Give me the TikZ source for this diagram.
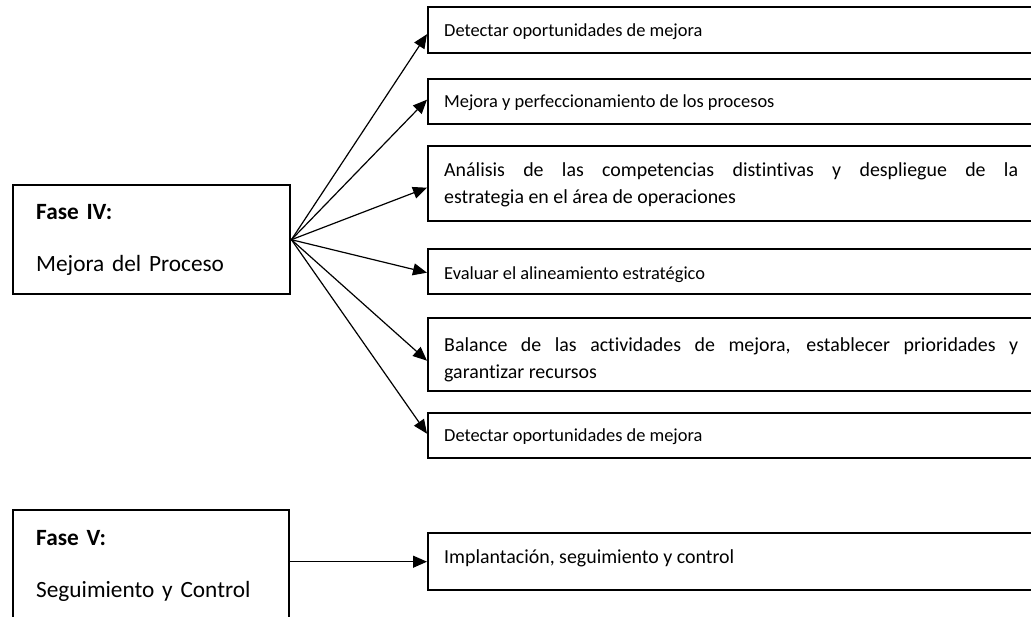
\documentclass[tikz,border=0pt]{standalone}
\usepackage{fontspec}
\setmainfont{Carlito}[Ligatures=NoCommon]
\usetikzlibrary{arrows.meta,calc}
\begin{document}
\begin{tikzpicture}[x=1pt,y=-1pt,
  rbox/.style={draw,line width=2.4pt,anchor=north west,inner sep=0pt,minimum width=610pt},
  tx/.style={anchor=base west,inner sep=0pt,font=\fontsize{18.4}{27}\selectfont},
  txb/.style={anchor=base west,inner sep=0pt,text width=574pt,align=justify,
    font=\fontsize{19.9}{27}\selectfont},
  lbox/.style={draw,line width=2.4pt,anchor=north west,text width=231pt,
    inner xsep=23pt,inner ysep=0pt,align=left,
    font=\fontsize{23.3}{26}\selectfont},
  arr/.style={-{Triangle[length=14pt,width=12pt]},line width=1.2pt}]
\useasboundingbox (0,0) rectangle (1031,617);
\clip (0,0) rectangle (1031,617);

\node[lbox,minimum height=109pt] (f4) at (12,184)
  {\textbf{Fase IV:}\\[26pt]Mejora del Proceso};
\node[lbox,minimum height=111pt,text width=230pt] (f5) at (12,509)
  {\textbf{Fase V:}\\[26pt]Seguimiento y Control};

\node[rbox,minimum height=46pt] (b1) at (427,6) {};
\node[rbox,minimum height=45pt] (b2) at (427,78) {};
\node[rbox,minimum height=75pt] (b3) at (427,145) {};
\node[rbox,minimum height=45pt] (b4) at (427,248) {};
\node[rbox,minimum height=73pt] (b5) at (427,317) {};
\node[rbox,minimum height=45pt] (b6) at (427,412) {};
\node[rbox,minimum height=57pt] (b7) at (427,532) {};

\node[tx] (t1) at (444,37) {Detectar oportunidades de mejora};
\node[tx] (t2) at (444,108) {Mejora y perfeccionamiento de los procesos};
\node[txb] (t3) at (444,177)
  {Análisis de las competencias distintivas y despliegue de la\linebreak estrategia en el área de operaciones};
\node[tx] (t4) at (444,280) {Evaluar el alineamiento estratégico};
\node[txb] (t5) at (444,352)
  {Balance de las actividades de mejora, establecer prioridades y\linebreak garantizar recursos};
\node[tx] (t6) at (444,442) {Detectar oportunidades de mejora};
\node[tx,font=\fontsize{19.9}{27}\selectfont] (t7) at (444,563) {Implantación, seguimiento y control};

\draw[arr] (f4.east) -- ($(b1.west)+(0,4)$);
\draw[arr] (f4.east) -- ($(b2.west)+(0,-2)$);
\draw[arr] (f4.east) -- ($(b3.west)+(0,4)$);
\draw[arr] (f4.east) -- ($(b4.west)+(0,1)$);
\draw[arr] (f4.east) -- ($(b5.west)+(0,6)$);
\draw[arr] (f4.east) -- ($(b6.west)+(0,-2)$);
\draw[arr] (f5.east |- b7.west) -- (b7.west);
\end{tikzpicture}
\end{document}
